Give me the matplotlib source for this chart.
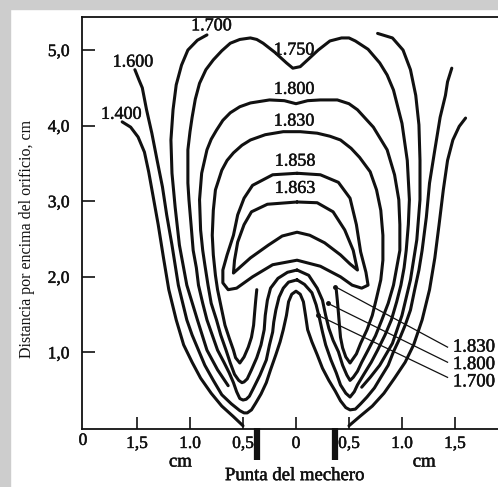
import numpy as np
import matplotlib
matplotlib.use("Agg")
import matplotlib.pyplot as plt
import matplotlib.patheffects as pe

plt.rcParams["font.family"] = ["Liberation Serif", "DejaVu Serif"]

nan = np.nan

# isotherm lines, cm (x from burner axis, y above orifice)
c1400_x = [-1.64, -1.56, -1.49, -1.43, -1.39, -1.35, -1.30, -1.25, -1.20, -1.13, -1.06, -0.98, -0.90, -0.80, -0.70, -0.59, -0.50, nan,
           1.60, 1.54, 1.48, 1.43, 1.39, 1.35, 1.31, 1.26, 1.19, 1.11, 1.03, 0.93, 0.83, 0.72, 0.60, 0.50]
c1400_y = [4.05, 3.98, 3.85, 3.65, 3.39, 3.08, 2.69, 2.25, 1.83, 1.43, 1.10, 0.87, 0.66, 0.46, 0.29, 0.15, 0.03, nan,
           4.10, 3.99, 3.81, 3.54, 3.15, 2.69, 2.25, 1.83, 1.43, 1.10, 0.87, 0.66, 0.46, 0.29, 0.15, 0.03]

c1600_x = [-1.52, -1.48, -1.45, -1.41, -1.36, -1.31, -1.26, -1.22, -1.17, -1.11, -1.03, -0.98, -0.92, -0.86, -0.78, -0.70, -0.61, -0.53, -0.49, -0.46,
           -0.42, -0.38, -0.33, -0.28, -0.24, -0.19, -0.15, -0.12, -0.09, -0.07, -0.04, 0.00,
           0.04, 0.07, 0.09, 0.11, 0.15, 0.20, 0.25, 0.31, 0.37, 0.42, 0.47, 0.51,
           0.56, 0.61, 0.67, 0.74, 0.80, 0.87, 0.92, 0.98, 1.03, 1.08, 1.12, 1.16, 1.19, 1.23, 1.26, 1.31, 1.36, 1.41, 1.43, 1.47]
c1600_y = [4.74, 4.60, 4.50, 4.21, 3.90, 3.54, 3.19, 2.82, 2.42, 1.89, 1.43, 1.23, 1.03, 0.83, 0.63, 0.44, 0.32, 0.23, 0.20, 0.20,
           0.24, 0.33, 0.45, 0.60, 0.77, 0.97, 1.14, 1.30, 1.49, 1.67, 1.77, 1.81,
           1.77, 1.67, 1.49, 1.30, 1.14, 0.97, 0.79, 0.63, 0.49, 0.36, 0.27, 0.24,
           0.25, 0.32, 0.41, 0.53, 0.67, 0.83, 1.01, 1.19, 1.36, 1.56, 1.83, 2.09, 2.35, 2.79, 3.24, 3.68, 4.11, 4.40, 4.58, 4.76]

c1700_x = [-0.84, -0.93, -1.02, -1.08, -1.13, -1.16, -1.18, -1.17, -1.14, -1.10, -1.03, -0.93, -0.84, -0.74, -0.64, nan,
           0.77, 0.91, 1.01, 1.08, 1.13, 1.16, 1.17, 1.17, 1.14, 1.08, 1.00, 0.91, 0.79, 0.70, 0.62]
c1700_y = [5.20, 5.13, 5.00, 4.80, 4.54, 4.21, 3.81, 3.37, 2.92, 2.42, 1.89, 1.43, 1.03, 0.77, 0.56, nan,
           5.22, 5.16, 5.00, 4.74, 4.40, 4.01, 3.54, 3.02, 2.49, 1.96, 1.49, 1.12, 0.83, 0.67, 0.54]

c1750_x = [0.01, -0.07, -0.12, -0.16, -0.19, -0.21, -0.22, -0.25, -0.28, -0.34, -0.40, -0.44, -0.47, -0.50,
           -0.53, -0.56, -0.59, -0.63, -0.68, -0.74, -0.79, -0.84, -0.88, -0.92, -0.94, -0.97, -0.99, -1.01, -1.02, -1.02, -1.00, -0.98, -0.95, -0.91, -0.85, -0.78, -0.70, -0.62, -0.53, -0.43,
           -0.37, -0.31, -0.20, -0.09, -0.03, 0.04, 0.11, 0.21, 0.32, 0.43, 0.50, 0.56, 0.68, 0.79, 0.86, 0.92, 1.00, 1.05, 1.07,
           1.06, 1.04, 1.02, 0.99, 0.95, 0.90, 0.84, 0.77, 0.71, 0.64, 0.58, 0.55, 0.51,
           0.47, 0.42, 0.38, 0.33, 0.28, 0.25, 0.22, 0.19, 0.15, 0.08, 0.01]
c1750_y = [1.96, 1.93, 1.85, 1.73, 1.56, 1.40, 1.27, 1.10, 0.90, 0.70, 0.53, 0.42, 0.38, 0.37,
           0.39, 0.48, 0.60, 0.73, 0.87, 1.03, 1.23, 1.43, 1.65, 1.89, 2.12, 2.35, 2.69, 3.02, 3.24, 3.68, 3.92, 4.11, 4.35, 4.56, 4.74, 4.87, 4.99, 5.09, 5.14, 5.16,
           5.14, 5.09, 4.97, 4.83, 4.76, 4.78, 4.87, 5.00, 5.12, 5.16, 5.16, 5.12, 5.01, 4.83, 4.67, 4.47, 4.03, 3.54, 3.02,
           2.69, 2.35, 2.12, 1.89, 1.67, 1.43, 1.23, 1.03, 0.87, 0.71, 0.57, 0.48, 0.41,
           0.46, 0.57, 0.73, 0.90, 1.10, 1.27, 1.46, 1.63, 1.79, 1.90, 1.96]

c1800_x = [0.01, -0.08, -0.17, -0.24, -0.27, -0.29, -0.30, -0.33, -0.37, -0.42, -0.46, -0.49, -0.51,
           -0.54, -0.58, -0.62, -0.66, -0.71, -0.75, -0.80, -0.83, -0.86, -0.88, -0.90, -0.91, -0.89, -0.84, -0.80, -0.75, -0.69, -0.62, -0.53, -0.43,
           -0.25, -0.11, 0.00, 0.11, 0.23, 0.39, 0.50, 0.58, 0.73, 0.86, 0.93, 0.97,
           0.98, 0.98, 0.95, 0.92, 0.87, 0.81, 0.75, 0.68, 0.62, 0.58, 0.54, 0.51,
           0.48, 0.44, 0.40, 0.35, 0.31, 0.28, 0.25, 0.20, 0.12, 0.01]
c1800_y = [2.09, 2.06, 1.98, 1.85, 1.69, 1.49, 1.30, 1.10, 0.93, 0.77, 0.65, 0.61, 0.60,
           0.63, 0.71, 0.86, 1.03, 1.23, 1.43, 1.65, 1.89, 2.16, 2.35, 2.62, 3.02, 3.37, 3.68, 3.82, 3.94, 4.07, 4.17, 4.25, 4.30,
           4.34, 4.33, 4.29, 4.33, 4.34, 4.34, 4.29, 4.21, 3.98, 3.68, 3.35, 3.02,
           2.69, 2.35, 2.12, 1.89, 1.65, 1.43, 1.22, 1.03, 0.87, 0.75, 0.67, 0.63,
           0.70, 0.83, 1.01, 1.16, 1.32, 1.49, 1.69, 1.85, 2.02, 2.09]

c1830_x = [-0.37, -0.38, -0.39, -0.40, -0.42, -0.45, -0.49, -0.53,
           -0.57, -0.59, -0.63, -0.67, -0.70, -0.74, -0.76, -0.78, -0.79, -0.78, -0.76, -0.70, -0.65, -0.59, -0.51, -0.43, -0.29, -0.12,
           0.04, 0.20, 0.32, 0.42, 0.52, 0.60, 0.70, 0.76, 0.80,
           0.82, 0.82, 0.80, 0.76, 0.72, 0.67, 0.61, 0.57, 0.53, 0.51,
           0.47, 0.44, 0.42, 0.41, 0.40, 0.39, 0.38]
c1830_y = [1.83, 1.69, 1.53, 1.36, 1.20, 1.07, 0.94, 0.86,
           0.93, 1.03, 1.19, 1.36, 1.56, 1.83, 2.02, 2.29, 2.55, 2.88, 3.15, 3.41, 3.54, 3.64, 3.74, 3.81, 3.88, 3.92,
           3.92, 3.90, 3.86, 3.81, 3.70, 3.58, 3.39, 3.15, 2.88,
           2.55, 2.22, 1.96, 1.72, 1.49, 1.30, 1.12, 0.98, 0.90, 0.86,
           0.94, 1.06, 1.20, 1.36, 1.53, 1.69, 1.83]

c1858_x = [0.01, 0.23, 0.40, 0.51, 0.57, 0.61, 0.66, 0.68, 0.62, 0.53, 0.42, 0.23, 0.01, -0.22, -0.41, -0.56, -0.64,
           -0.69, -0.69, -0.65, -0.59, -0.55, -0.49, -0.41, -0.22, 0.01]
c1858_y = [3.37, 3.35, 3.25, 3.04, 2.69, 2.33, 2.06, 1.89, 1.85, 1.89, 2.00, 2.14, 2.22, 2.16, 2.00, 1.85, 1.83,
           1.92, 2.09, 2.29, 2.55, 2.82, 3.04, 3.21, 3.35, 3.37]

c1863_x = [0.01, 0.20, 0.35, 0.46, 0.54, 0.58, 0.51, 0.42, 0.27, 0.13, 0.01, -0.13, -0.26, -0.43, -0.59,
           -0.58, -0.55, -0.49, -0.42, -0.27, 0.01]
c1863_y = [2.99, 2.98, 2.86, 2.62, 2.35, 2.09, 2.17, 2.29, 2.45, 2.55, 2.59, 2.54, 2.42, 2.25, 2.05,
           2.22, 2.46, 2.69, 2.86, 2.96, 2.99]

# contour labels
lab_text = ["1.400", "1.600", "1.700", "1.750", "1.800", "1.830", "1.858", "1.863"]
lab_x = [-1.65, -1.54, -0.80, -0.02, -0.02, -0.02, -0.01, -0.01]
lab_y = [4.15, 4.84, 5.32, 5.00, 4.48, 4.06, 3.53, 3.17]

# leader lines at the right
lead_text = ["1.830", "1.800", "1.700"]
lead_x0 = [0.37, 0.30, 0.21]
lead_y0 = [1.87, 1.65, 1.49]
lead_x1 = [1.43, 1.43, 1.43]
lead_y1 = [1.07, 0.87, 0.67]
lead_ty = [1.07, 0.84, 0.61]

xticks = [-1.5, -1.0, -0.5, 0, 0.5, 1.0, 1.5]
xticklabels = ["1,5", "1.0", "0,5", "0", "0,5", "1.0", "1,5"]
yticks = [1, 2, 3, 4, 5]
yticklabels = ["1,0", "2,0", "3,0", "4,0", "5,0"]

burner_x = [-0.37, 0.37]

ink = "#111111"
heavy = [pe.withStroke(linewidth=0.35, foreground=ink)]

fig = plt.figure(figsize=(4.98, 4.87), dpi=100)
# grey page shadow at top and left
fig.patches.append(plt.Rectangle((0, 1 - 9 / 487), 1, 9 / 487, transform=fig.transFigure,
                                 color="#cdcdcd", zorder=0))
fig.patches.append(plt.Rectangle((0, 0), 10 / 498, 1, transform=fig.transFigure,
                                 color="#cdcdcd", zorder=0))

ax = fig.add_axes([82 / 498, 58 / 487, 416 / 498, 412 / 487])
ax.set_xlim(-2.019, 1.906)
ax.set_ylim(-0.013, 5.437)

lines = [(c1400_x, c1400_y), (c1600_x, c1600_y), (c1700_x, c1700_y), (c1750_x, c1750_y),
         (c1800_x, c1800_y), (c1830_x, c1830_y), (c1858_x, c1858_y), (c1863_x, c1863_y)]
for xs, ys in lines:
    ax.plot(xs, ys, color=ink, lw=2.2, solid_joinstyle="round", solid_capstyle="round")

for t, x, y in zip(lab_text, lab_x, lab_y):
    ax.text(x, y, t, ha="center", va="center", fontsize=13, color=ink, path_effects=heavy)

for t, x0, y0, x1, y1, ty in zip(lead_text, lead_x0, lead_y0, lead_x1, lead_y1, lead_ty):
    ax.plot([x0, x1], [y0, y1], color=ink, lw=0.9, clip_on=False)
    ax.plot([x0], [y0], "o", color=ink, ms=2.5)
    ax.text(1.48, ty, t, ha="left", va="center", fontsize=13.5, color=ink, clip_on=False,
            path_effects=heavy)

ax.vlines(burner_x, -0.42, 0, colors=ink, lw=4.5, clip_on=False)

ax.set_xticks(xticks)
ax.set_xticklabels(xticklabels)
ax.set_yticks(yticks)
ax.set_yticklabels(yticklabels)
ax.tick_params(direction="in", length=9, width=1.2, labelsize=12.5, color=ink, labelcolor=ink)
ax.tick_params(axis="y", pad=9)
ax.tick_params(axis="x", pad=5)
for lbl in ax.get_xticklabels() + ax.get_yticklabels():
    lbl.set_path_effects(heavy)
ax.spines["right"].set_visible(False)
for s in ["left", "bottom", "top"]:
    ax.spines[s].set_linewidth(1.3)
    ax.spines[s].set_color(ink)

ax.text(-2.01, -0.17, "0", ha="center", va="center", fontsize=12.5, color=ink, clip_on=False,
        path_effects=heavy)
ax.text(-1.09, -0.45, "cm", ha="center", va="center", fontsize=13.5, color=ink, clip_on=False,
        path_effects=heavy)
ax.text(1.21, -0.45, "cm", ha="center", va="center", fontsize=13.5, color=ink, clip_on=False,
        path_effects=heavy)
ax.text(-0.01, -0.63, "Punta del mechero", ha="center", va="center", fontsize=13.5, color=ink,
        clip_on=False, path_effects=heavy)

fig.text(27 / 498, (487 - 239) / 487, "Distancia por encima del orificio, cm", rotation=90,
         ha="center", va="center", fontsize=11.5, color=ink)

fig.savefig("out.png", dpi=100)
